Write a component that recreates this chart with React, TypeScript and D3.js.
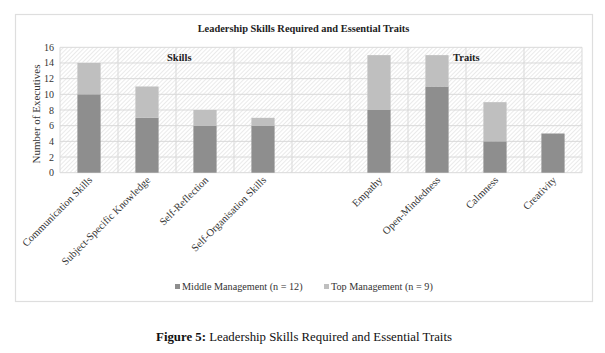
import React from "react";
import * as d3 from "d3";

const categories = [
  "Communication Skills",
  "Subject-Specific Knowledge",
  "Self-Reflection",
  "Self-Organisation Skills",
  "",
  "Empathy",
  "Open-Mindedness",
  "Calmness",
  "Creativity",
];
const middleValues = [10, 7, 6, 6, 0, 8, 11, 4, 5];
const topValues = [4, 4, 2, 1, 0, 7, 4, 5, 0];
const yTicks = [0, 2, 4, 6, 8, 10, 12, 14, 16];
const seriesNames = ["Middle Management (n = 12)", "Top Management (n = 9)"];
const groupLabels = ["Skills", "Traits"];

const W = 605;
const H = 353;
const serif = "'Liberation Serif', 'Times New Roman', serif";
const cMid = "#8e8e8e";
const cTop = "#bfbfbf";
const cGrid = "#d9d9d9";

export default function App() {
  const keys = categories.map((_, i) => String(i));
  const x = d3.scaleBand().domain(keys).range([60, 582]).paddingInner(0).paddingOuter(0);
  const y = d3.scaleLinear().domain([0, 16]).range([172.7, 47.3]);
  const step = x.step();
  const bw = step * 0.4;

  const stackData = categories.map((c, i) => ({ key: String(i), middle: middleValues[i], top: topValues[i] }));
  const stacked = d3.stack<any>().keys(["middle", "top"])(stackData);
  const colors = [cMid, cTop];

  return (
    <svg
      width={W}
      height={H}
      style={{ position: "absolute", left: 0, top: 0, background: "#fff" }}
      fontFamily={serif}
    >
      <defs>
        <pattern id="hatch" width="3" height="3" patternUnits="userSpaceOnUse" patternTransform="rotate(45)">
          <rect width="3" height="3" fill="#ffffff" />
          <line x1="0" y1="0" x2="0" y2="3" stroke="#d6d6d6" strokeWidth="1" />
        </pattern>
      </defs>
      <rect x={0} y={0} width={W} height={H} fill="#fff" />
      {/* frame */}
      <rect x={15.5} y={14.5} width={577} height={287} fill="#fff" stroke="#dedede" strokeWidth={1.2} />
      {/* title */}
      <text x={303.5} y={32} textAnchor="middle" fontWeight="bold" fontSize={10.4} fill="#222">
        Leadership Skills Required and Essential Traits
      </text>
      {/* plot bg */}
      <rect x={60} y={y(16)} width={522} height={y(0) - y(16)} fill="url(#hatch)" />
      {/* horizontal grid */}
      {yTicks.map((t) => (
        <line key={"h" + t} x1={60} x2={582} y1={y(t)} y2={y(t)} stroke={cGrid} strokeWidth={1} />
      ))}
      {/* vertical grid */}
      {d3.range(categories.length + 1).map((i) => (
        <line
          key={"v" + i}
          x1={60 + i * step}
          x2={60 + i * step}
          y1={y(16)}
          y2={y(0)}
          stroke={cGrid}
          strokeWidth={1}
        />
      ))}
      {/* bars */}
      {stacked.map((s, si) =>
        s.map((d: any, i: number) => {
          const h = y(d[0]) - y(d[1]);
          if (h <= 0) return null;
          return (
            <rect
              key={si + "-" + i}
              x={(x(String(i)) as number) + (step - bw) / 2}
              y={y(d[1])}
              width={bw}
              height={h}
              fill={colors[si]}
            />
          );
        })
      )}
      {/* group labels */}
      <text x={167} y={61} fontWeight="bold" fontSize={10.5} fill="#222">
        {groupLabels[0]}
      </text>
      <text x={453} y={61} fontWeight="bold" fontSize={10.5} fill="#222">
        {groupLabels[1]}
      </text>
      {/* y ticks */}
      {yTicks.map((t) => (
        <text key={"yt" + t} x={54} y={y(t) + 3.5} textAnchor="end" fontSize={10} fill="#333">
          {t}
        </text>
      ))}
      {/* y title */}
      <text
        transform={`translate(40,114) rotate(-90)`}
        textAnchor="middle"
        fontSize={11}
        fill="#333"
      >
        Number of Executives
      </text>
      {/* x labels */}
      {categories.map((c, i) =>
        c ? (
          <text
            key={"xl" + i}
            transform={`translate(${(x(String(i)) as number) + step / 2 + 4},${y(0) + 8}) rotate(-45)`}
            textAnchor="end"
            fontSize={10.5}
            fill="#333"
          >
            {c}
          </text>
        ) : null
      )}
      {/* legend */}
      <rect x={175} y={284} width={5} height={5} fill={cMid} />
      <text x={182} y={290} fontSize={10.2} fill="#333">
        {seriesNames[0]}
      </text>
      <rect x={324} y={284} width={5} height={5} fill={cTop} />
      <text x={331} y={290} fontSize={10.2} fill="#333">
        {seriesNames[1]}
      </text>
      {/* caption */}
      <text x={304} y={341} textAnchor="middle" fontSize={12.8} fill="#111">
        <tspan fontWeight="bold">Figure 5:</tspan> Leadership Skills Required and Essential Traits
      </text>
    </svg>
  );
}
